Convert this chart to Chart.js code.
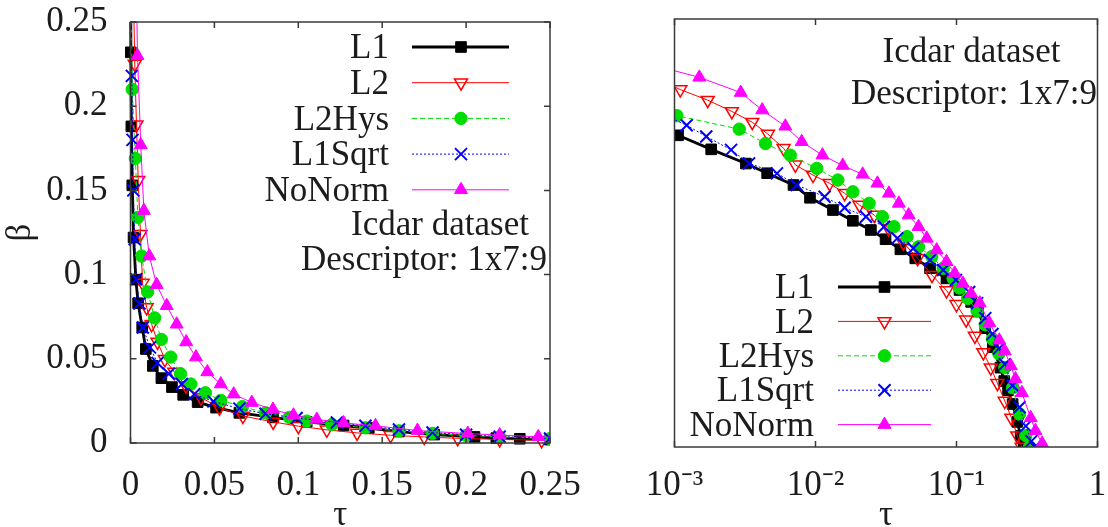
<!DOCTYPE html>
<html><head><meta charset="utf-8">
<script src="https://cdn.jsdelivr.net/npm/chart.js@4.4.0/dist/chart.umd.min.js"></script>
<style>
html,body{margin:0;padding:0;background:#fff;}
#wrap{position:relative;width:1108px;height:527px;overflow:hidden;background:#fff;}
canvas{position:absolute;left:0;top:0;}
</style></head><body>
<div id="wrap"><canvas id="c1" width="1108" height="527"></canvas><canvas id="c2" width="1108" height="527"></canvas></div>
<script>
// ---------- data ----------
const seriesNames = ['L1', 'L2', 'L2Hys', 'L1Sqrt', 'NoNorm'];

const tauL1  = [0.0001, 0.0002, 0.0005, 0.00106, 0.00182, 0.00321, 0.00454, 0.00698, 0.00914, 0.0133, 0.0184, 0.0247, 0.0314, 0.040, 0.051, 0.0649, 0.0849, 0.105, 0.127, 0.142, 0.160, 0.181, 0.205, 0.218, 0.232, 0.25, 0.27, 0.285, 0.30];
const betaL1 = [0.28, 0.232, 0.188, 0.153, 0.122, 0.097, 0.083, 0.0686, 0.0558, 0.0458, 0.0385, 0.0332, 0.0286, 0.0243, 0.021, 0.0179, 0.0152, 0.0126, 0.0104, 0.0089, 0.0068, 0.0050, 0.0036, 0.0029, 0.0025, 0.0020, 0.0015, 0.0012, 0.0010];

const tauL2  = [0.0002, 0.0006, 0.0011, 0.00172, 0.00255, 0.00356, 0.0046, 0.00594, 0.0072, 0.0096, 0.0126, 0.0161, 0.0205, 0.0261, 0.033, 0.042, 0.053, 0.067, 0.085, 0.1, 0.117, 0.135, 0.155, 0.175, 0.195, 0.22, 0.245, 0.27, 0.29];
const betaL2 = [0.55, 0.42, 0.32, 0.27, 0.225, 0.189, 0.156, 0.124, 0.095, 0.0805, 0.0705, 0.060, 0.0497, 0.0422, 0.034, 0.027, 0.021, 0.016, 0.0125, 0.010, 0.0078, 0.006, 0.0046, 0.0036, 0.0028, 0.0021, 0.0016, 0.0012, 0.0010];

const tauL2Hys  = [0.0004, 0.00104, 0.00288, 0.00442, 0.00662, 0.0102, 0.0144, 0.0184, 0.024, 0.0298, 0.036, 0.0446, 0.0538, 0.0667, 0.0805, 0.0947, 0.105, 0.12, 0.14, 0.16, 0.18, 0.2, 0.22, 0.25, 0.28, 0.31, 0.33];
const betaL2Hys = [0.26, 0.21, 0.169, 0.134, 0.111, 0.0897, 0.0743, 0.0615, 0.051, 0.0411, 0.035, 0.0298, 0.0253, 0.0216, 0.0179, 0.0152, 0.0130, 0.011, 0.009, 0.0072, 0.0057, 0.0045, 0.0036, 0.0026, 0.0017, 0.0012, 0.001];

const tauL1Sqrt  = [0.0003, 0.0008, 0.00122, 0.00168, 0.00252, 0.00338, 0.00533, 0.00736, 0.0116, 0.0161, 0.0228, 0.0306, 0.038, 0.0494, 0.0649, 0.0805, 0.099, 0.123, 0.14, 0.16, 0.18, 0.2, 0.22, 0.25, 0.28, 0.31, 0.34, 0.36];
const betaL1Sqrt = [0.27, 0.218, 0.180, 0.150, 0.121, 0.0973, 0.0828, 0.0686, 0.0568, 0.0475, 0.0411, 0.035, 0.029, 0.0247, 0.0204, 0.0174, 0.0148, 0.0122, 0.0102, 0.0080, 0.0062, 0.0049, 0.0038, 0.0027, 0.0019, 0.0014, 0.0011, 0.001];

const tauNoNorm  = [0.0005, 0.0015, 0.00295, 0.00419, 0.00611, 0.00798, 0.0112, 0.0156, 0.0216, 0.0275, 0.0332, 0.039, 0.0458, 0.0538, 0.0615, 0.0723, 0.0849, 0.0971, 0.111, 0.127, 0.146, 0.171, 0.201, 0.22, 0.243, 0.262, 0.291, 0.336, 0.363, 0.405];
const betaNoNorm = [0.52, 0.39, 0.305, 0.230, 0.177, 0.138, 0.111, 0.094, 0.0815, 0.0705, 0.060, 0.051, 0.0422, 0.035, 0.029, 0.024, 0.0199, 0.0165, 0.014, 0.0119, 0.0102, 0.0074, 0.0056, 0.0047, 0.0037, 0.003, 0.0024, 0.0016, 0.0013, 0.00106];

const linTicksX = [0, 0.05, 0.1, 0.15, 0.2, 0.25];
const linTicksY = [0, 0.05, 0.1, 0.15, 0.2, 0.25];
const logTicksX = [0.001, 0.01, 0.1, 1];
const logTickLabels = ['10\u207B\u00B3', '10\u207B\u00B2', '10\u207B\u00B9', '1'];
const annotationLines = ['Icdar dataset', 'Descriptor: 1x7:9'];
const xTitle = '\u03C4';
const yTitle = '\u03B2';

// ---------- styles ----------
const FONT = '"Liberation Serif", "Times New Roman", serif';
const FS = 35;
const TXT = '#1c1c1c';
const styles = [
  {color: '#000000', width: 2.8, dash: [], ps: 'rect', rot: 0, r: 7.5, fill: true, bw: 1},
  {color: '#ff0000', width: 1, dash: [], ps: 'triangle', rot: 180, r: 7.5, fill: false, bw: 1.5},
  {color: '#00dd00', width: 1, dash: [5, 3], ps: 'circle', rot: 0, r: 6.2, fill: true, bw: 1},
  {color: '#0000ff', width: 1, dash: [2, 2], ps: 'crossRot', rot: 0, r: 8.5, fill: false, bw: 2},
  {color: '#ff00ff', width: 1, dash: [], ps: 'triangle', rot: 0, r: 7.5, fill: true, bw: 1}
];
const taus = [tauL1, tauL2, tauL2Hys, tauL1Sqrt, tauNoNorm];
const betas = [betaL1, betaL2, betaL2Hys, betaL1Sqrt, betaNoNorm];

function makeDatasets(clip) {
  return seriesNames.map((name, i) => {
    const s = styles[i];
    return {
      label: name,
      data: taus[i].map((t, k) => ({x: t, y: betas[i][k]})),
      showLine: true,
      borderColor: s.color,
      borderWidth: s.width,
      borderDash: s.dash,
      backgroundColor: s.color,
      pointStyle: s.ps,
      pointRotation: s.rot,
      pointRadius: s.r,
      pointBorderWidth: s.bw,
      pointBorderColor: s.color,
      pointBackgroundColor: s.fill ? s.color : 'rgba(255,255,255,0)',
      tension: 0,
      order: 4 - i,
      clip: clip
    };
  });
}

// ---------- plugins ----------
function drawMarker(ctx, s, x, y) {
  ctx.save();
  ctx.setLineDash([]);
  ctx.fillStyle = s.fill ? s.color : 'rgba(255,255,255,0)';
  ctx.strokeStyle = s.color;
  ctx.lineWidth = s.bw;
  if (Chart.helpers && Chart.helpers.drawPoint) {
    Chart.helpers.drawPoint(ctx, {pointStyle: s.ps, rotation: s.rot, radius: s.r, borderWidth: s.bw}, x, y);
  }
  ctx.restore();
}

const framePlugin = {
  id: 'frameTicks',
  afterDraw(chart, args, opts) {
    const ctx = chart.ctx, a = chart.chartArea;
    ctx.save();
    ctx.strokeStyle = '#3a3a3a';
    ctx.lineWidth = 1.5;
    ctx.setLineDash([]);
    ctx.strokeRect(a.left, a.top, a.right - a.left, a.bottom - a.top);
    const L = 6;
    const xs = chart.scales.x;
    xs.ticks.forEach(t => {
      const px = xs.getPixelForValue(t.value);
      ctx.beginPath();
      ctx.moveTo(px, a.bottom); ctx.lineTo(px, a.bottom - L);
      ctx.moveTo(px, a.top); ctx.lineTo(px, a.top + L);
      ctx.stroke();
    });
    if (opts.yTicks) {
      const ys = chart.scales.y;
      ys.ticks.forEach(t => {
        const py = ys.getPixelForValue(t.value);
        ctx.beginPath();
        ctx.moveTo(a.left, py); ctx.lineTo(a.left + L, py);
        ctx.moveTo(a.right, py); ctx.lineTo(a.right - L, py);
        ctx.stroke();
      });
    }
    ctx.restore();
  }
};

const legendPlugin = {
  id: 'gpLegend',
  afterDraw(chart, args, o) {
    const ctx = chart.ctx;
    ctx.save();
    ctx.font = FS + 'px ' + FONT;
    ctx.fillStyle = TXT;
    ctx.textAlign = 'right';
    ctx.textBaseline = 'middle';
    chart.data.datasets.forEach((ds, i) => {
      const y = o.y0 + i * o.dy;
      const s = styles[i];
      ctx.fillStyle = TXT;
      ctx.fillText(ds.label, o.textRight, y + 2);
      ctx.save();
      ctx.strokeStyle = s.color;
      ctx.lineWidth = s.width;
      ctx.setLineDash(s.dash);
      ctx.beginPath();
      ctx.moveTo(o.x0, y); ctx.lineTo(o.x1, y);
      ctx.stroke();
      ctx.restore();
      drawMarker(ctx, s, o.mx, y);
    });
    ctx.textAlign = 'center';
    ctx.fillStyle = TXT;
    o.notes.forEach((n, k) => ctx.fillText(annotationLines[k], n.x, n.y));
    ctx.restore();
  }
};

function fmtLin(v) { return String(+(+v).toFixed(3)); }

// ---------- left chart (linear) ----------
new Chart(document.getElementById('c1'), {
  type: 'scatter',
  data: {datasets: makeDatasets({left: 8, right: 0, top: 0, bottom: 6})},
  plugins: [framePlugin, legendPlugin],
  options: {
    responsive: false, animation: false, devicePixelRatio: 1,
    layout: {padding: {left: 0, top: 22, right: 558, bottom: 0}},
    plugins: {
      legend: {display: false}, tooltip: {enabled: false},
      frameTicks: {yTicks: true},
      gpLegend: {textRight: 389, x0: 412, x1: 509, mx: 461, y0: 47, dy: 35.7,
        notes: [{x: 440, y: 226}, {x: 424, y: 261}]}
    },
    scales: {
      x: {
        type: 'linear', min: 0, max: 0.25,
        afterBuildTicks: s => { s.ticks = linTicksX.map(v => ({value: v})); },
        afterFit: s => { s.height = 84; s.paddingLeft = 0; s.paddingRight = 0; },
        grid: {display: false, drawTicks: false, tickLength: 0},
        border: {display: false},
        ticks: {color: TXT, font: {family: FONT, size: FS}, padding: 22, maxRotation: 0, autoSkip: false, callback: v => fmtLin(v)},
        title: {display: true, text: xTitle, color: TXT, font: {family: FONT, size: FS}, padding: {top: 0, bottom: -10}}
      },
      y: {
        type: 'linear', min: 0, max: 0.25,
        afterBuildTicks: s => { s.ticks = linTicksY.map(v => ({value: v})); },
        afterFit: s => { s.width = 130.5; s.paddingTop = 0; s.paddingBottom = 0; },
        grid: {display: false, drawTicks: false, tickLength: 0},
        border: {display: false},
        ticks: {color: TXT, font: {family: FONT, size: FS}, padding: 23, autoSkip: false, callback: v => fmtLin(v)},
        title: {display: true, text: yTitle, color: TXT, font: {family: FONT, size: FS}, padding: {top: 0, bottom: 0}}
      }
    }
  }
});

// ---------- right chart (log-log) ----------
new Chart(document.getElementById('c2'), {
  type: 'scatter',
  data: {datasets: makeDatasets({left: 0, right: 0, top: 0, bottom: 0})},
  plugins: [framePlugin, legendPlugin],
  options: {
    responsive: false, animation: false, devicePixelRatio: 1,
    layout: {padding: {left: 0, top: 19, right: 5, bottom: 0}},
    plugins: {
      legend: {display: false}, tooltip: {enabled: false},
      frameTicks: {yTicks: false},
      gpLegend: {textRight: 814, x0: 838, x1: 931, mx: 884.5, y0: 287, dy: 34.4,
        notes: [{x: 971.5, y: 53}, {x: 974, y: 95}]}
    },
    scales: {
      x: {
        type: 'logarithmic', min: 0.001, max: 1,
        afterBuildTicks: s => { s.ticks = logTicksX.map(v => ({value: v})); },
        afterFit: s => { s.height = 80; s.paddingLeft = 0; s.paddingRight = 0; },
        grid: {display: false, drawTicks: false, tickLength: 0},
        border: {display: false},
        ticks: {color: TXT, font: {family: FONT, size: FS}, padding: 18, maxRotation: 0, autoSkip: false,
          callback: (v, i) => logTickLabels[i]},
        title: {display: true, text: xTitle, color: TXT, font: {family: FONT, size: FS}, padding: {top: 0, bottom: -10}}
      },
      y: {
        type: 'logarithmic', min: 0.001, max: 1,
        afterFit: s => { s.width = 674.5; s.paddingTop = 0; s.paddingBottom = 0; },
        grid: {display: false, drawTicks: false, tickLength: 0},
        border: {display: false},
        ticks: {display: false}
      }
    }
  }
});
</script>
</body></html>
